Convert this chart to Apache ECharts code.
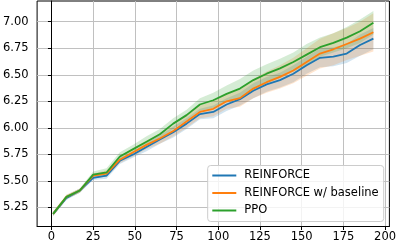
<!DOCTYPE html>
<html>
<head>
<meta charset="utf-8">
<script src="https://cdn.jsdelivr.net/npm/echarts@6/dist/echarts.min.js"></script>
<style>html,body{margin:0;padding:0;background:#fff}#c{width:399px;height:246px}</style>
</head>
<body>
<div id="c"></div>
<script>
var steps = [1,9,17,25,33,41,49,57,65,73,81,89,97,105,113,121,129,137,145,153,161,169,177,185,193];
var reinforce = [5.19,5.34,5.41,5.53,5.55,5.69,5.75,5.82,5.89,5.96,6.04,6.13,6.15,6.22,6.27,6.35,6.41,6.45,6.51,6.59,6.66,6.67,6.70,6.78,6.84];
var reinforceStd = [0.02,0.02,0.02,0.02,0.03,0.03,0.03,0.04,0.04,0.05,0.05,0.05,0.06,0.06,0.06,0.07,0.07,0.07,0.08,0.08,0.09,0.09,0.09,0.10,0.10];
var baseline = [5.19,5.35,5.41,5.55,5.57,5.70,5.77,5.84,5.90,5.97,6.06,6.15,6.18,6.25,6.28,6.37,6.43,6.48,6.54,6.62,6.70,6.74,6.79,6.84,6.90];
var baselineStd = [0.02,0.02,0.02,0.02,0.03,0.03,0.04,0.04,0.05,0.05,0.06,0.06,0.07,0.07,0.08,0.09,0.10,0.11,0.12,0.13,0.14,0.15,0.15,0.16,0.18];
var ppo = [5.19,5.35,5.41,5.56,5.58,5.73,5.80,5.87,5.94,6.04,6.12,6.22,6.26,6.32,6.37,6.45,6.51,6.56,6.62,6.69,6.76,6.80,6.85,6.91,6.99];
var ppoStd = [0.02,0.02,0.02,0.03,0.04,0.04,0.04,0.05,0.05,0.05,0.05,0.06,0.07,0.08,0.09,0.09,0.09,0.09,0.09,0.10,0.09,0.09,0.10,0.11,0.11];
var xTicks = [0,25,50,75,100,125,150,175,200];
var yTicks = [5.25,5.5,5.75,6.0,6.25,6.5,6.75,7.0];
var names = ['REINFORCE','REINFORCE w/ baseline','PPO'];
var colors = ['#1f77b4','#ff7f0e','#2ca02c'];
var bandColors = ['rgba(31,119,180,0.2)','rgba(255,127,14,0.2)','rgba(44,160,44,0.2)'];

var means = [reinforce, baseline, ppo];
var stds = [reinforceStd, baselineStd, ppoStd];
var series = [];
function bandRenderer(m, sd, fill) {
  return function(params, api) {
    var pts = [], i;
    for (i = 0; i < steps.length; i++) pts.push(api.coord([steps[i], m[i] + sd[i]]));
    for (i = steps.length - 1; i >= 0; i--) pts.push(api.coord([steps[i], m[i] - sd[i]]));
    return {type: 'polygon', shape: {points: pts}, style: {fill: fill, stroke: null}};
  };
}
for (var s = 0; s < 3; s++) {
  var m = means[s], sd = stds[s];
  series.push({
    name: names[s], type: 'line', symbol: 'none', showSymbol: false, color: colors[s],
    lineStyle: {width: 1.8, color: colors[s]},
    data: steps.map(function(x, i){ return [x, m[i]]; }),
    animation: false, z: 2
  });
  series.push({
    name: 'band' + s, type: 'custom', coordinateSystem: 'cartesian2d',
    renderItem: bandRenderer(m, sd, bandColors[s]),
    data: [[steps[0], m[0]]], encode: {x: 0, y: 1},
    silent: true, animation: false, z: 2, clip: true
  });
}

var font = 'DejaVu Sans';
var chart = echarts.init(document.getElementById('c'), null, {renderer: 'canvas'});
chart.setOption({
  animation: false,
  backgroundColor: '#fff',
  grid: {left: 34.1, right: 6.3, top: 1, bottom: 19.5, show: true, borderColor: '#000', borderWidth: 1, backgroundColor: 'transparent'},
  xAxis: {
    type: 'value', min: -8.6, max: 202.6,
    axisLine: {show: true, lineStyle: {color: '#000', width: 1}},
    axisTick: {show: true, length: 3.5, inside: false, lineStyle: {color: '#000', width: 1}, customValues: xTicks},
    axisLabel: {customValues: xTicks, color: '#000', fontFamily: font, fontSize: 11.5, margin: 5},
    splitLine: {show: true, lineStyle: {color: '#c0c0c0', width: 1}}
  },
  yAxis: {
    type: 'value', min: 5.0712, max: 7.1947,
    axisLine: {show: true, lineStyle: {color: '#000', width: 1}},
    axisTick: {show: true, length: 3.5, inside: false, lineStyle: {color: '#000', width: 1}, customValues: yTicks},
    axisLabel: {customValues: yTicks, color: '#000', fontFamily: font, fontSize: 11.5, margin: 8.5,
      formatter: function(v){ return v.toFixed(2); }},
    splitLine: {show: true, lineStyle: {color: '#c0c0c0', width: 1}}
  },
  legend: {
    data: names.map(function(n){ return {name: n, icon: 'rect'}; }),
    orient: 'vertical', left: 207.7, top: 165.5,
    itemWidth: 24, itemHeight: 2, itemGap: 3.5,
    padding: [3, 5, 4, 4.6],
    borderColor: '#cccccc', borderWidth: 1, borderRadius: 3,
    backgroundColor: 'rgba(255,255,255,0.8)',
    textStyle: {color: '#000', fontFamily: font, fontSize: 11.5, lineHeight: 14, padding: [0, 0, 0, 3]},
    selectedMode: false
  },
  series: series
});
</script>
</body>
</html>
